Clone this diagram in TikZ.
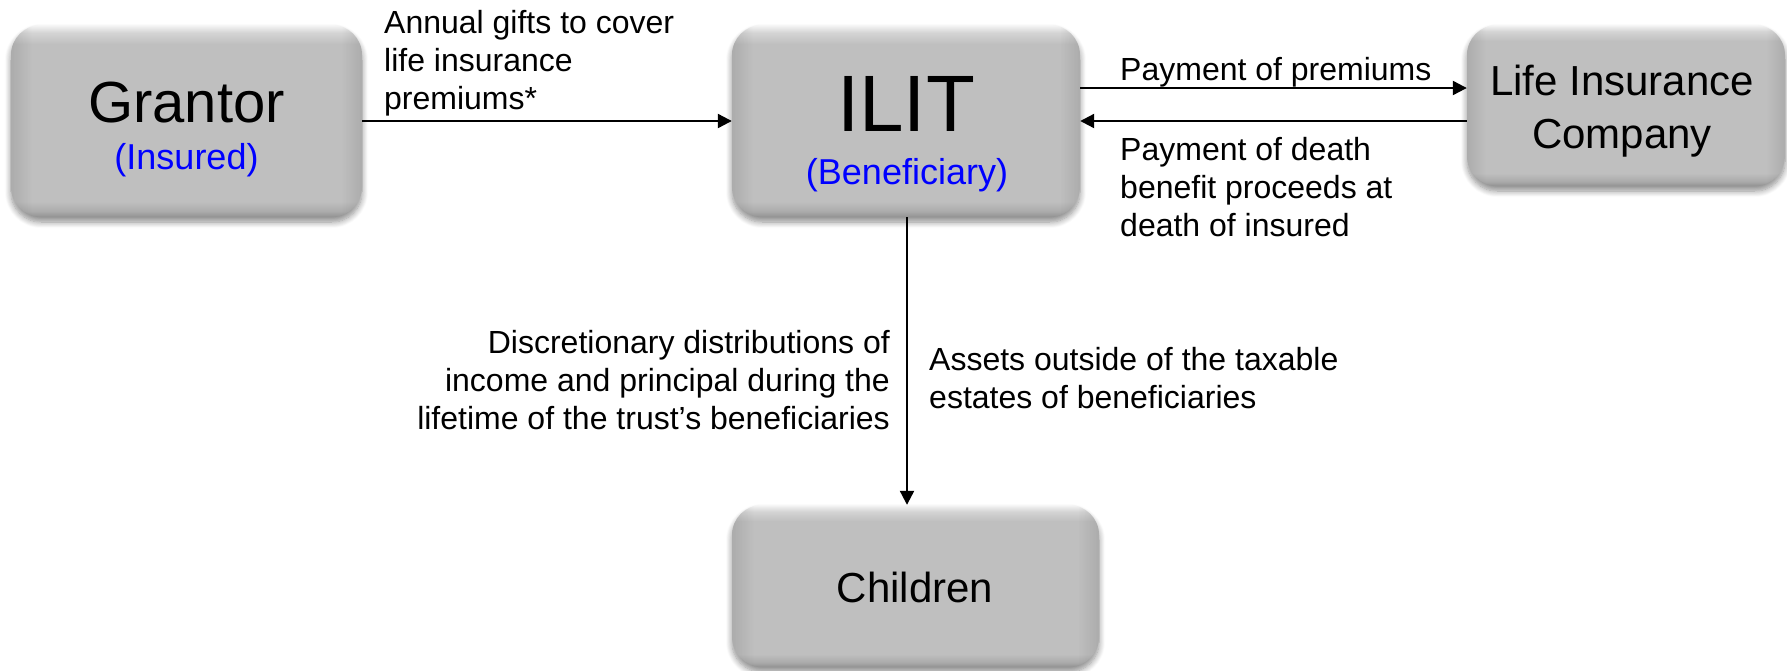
\documentclass[tikz,border=0pt]{standalone}
\usepackage{fontspec}
\setmainfont{Liberation Sans}
\usetikzlibrary{arrows.meta,shadows.blur,fadings}

% colours of the bevelled grey boxes
\definecolor{bevtop}{HTML}{F6F6F6}
\definecolor{bevhi}{HTML}{D4D4D4}
\definecolor{boxgray}{HTML}{BFBFBF}
\definecolor{bevlow}{HTML}{ABABAB}
\definecolor{bevbot}{HTML}{929292}
\definecolor{subblue}{RGB}{0,0,255}

% light top rim, flat body, darker bottom rim
\pgfdeclareverticalshading{boxbevel}{100bp}{%
  color(0bp)=(bevbot); color(25bp)=(bevbot); color(26.5bp)=(bevlow);
  color(29bp)=(boxgray); color(70bp)=(boxgray); color(73bp)=(bevhi);
  color(75bp)=(bevtop); color(100bp)=(bevtop)}

% darkening along the left and right rims
\pgfdeclarehorizontalshading{sidefadeshade}{100bp}{%
  color(0bp)=(pgftransparent!0); color(25bp)=(pgftransparent!0);
  color(28bp)=(pgftransparent!100); color(72bp)=(pgftransparent!100);
  color(75bp)=(pgftransparent!0); color(100bp)=(pgftransparent!0)}
\pgfdeclarefading{sidefade}{\pgfuseshading{sidefadeshade}}

\tikzset{
  box/.style={rounded corners=30pt, inner sep=0pt, shade, shading=boxbevel,
    blur shadow={shadow xshift=0pt, shadow yshift=-5pt,
      shadow blur radius=6pt, shadow blur steps=8, shadow opacity=45},
    postaction={fill=black, fill opacity=0.10, path fading=sidefade}},
  boxtext/.style={inner sep=0pt, anchor=base},
  lbl/.style={inner sep=0pt, font=\fontsize{32}{38}\selectfont},
  arr/.style={line width=2.2pt, -{Triangle[length=14pt,width=14pt]}}
}

\begin{document}
\begin{tikzpicture}[x=1pt, y=-1pt]
\useasboundingbox (0,0) rectangle (1787,670);

% boxes
\node[box, minimum width=351pt, minimum height=192pt] (grantor) at (186.5,121) {};
\node[box, minimum width=348pt, minimum height=192pt] (ilit) at (906,121) {};
\node[box, minimum width=318pt, minimum height=161pt] (lic) at (1626,105.5) {};
\node[box, minimum width=367pt, minimum height=162pt] (children) at (915.5,586) {};

% box texts (base anchor = baseline of the last line)
\node[boxtext, font=\fontsize{58}{60}\selectfont] (grantor-name) at (186.5,122) {Grantor};
\node[boxtext, font=\fontsize{36}{40}\selectfont, text=subblue] (grantor-role) at (186.5,169) {(Insured)};
\node[boxtext, font=\fontsize{80}{84}\selectfont] (ilit-name) at (906,131) {ILIT};
\node[boxtext, font=\fontsize{36}{40}\selectfont, text=subblue] (ilit-role) at (907,184) {(Beneficiary)};
\node[boxtext, font=\fontsize{42}{53}\selectfont, align=center] (lic-name) at (1622,148) {Life Insurance\\Company};
\node[boxtext, font=\fontsize{42}{46}\selectfont] (children-name) at (915,602) {Children};

% connectors
\draw[arr] (grantor.east) -- (ilit.west);
\draw[arr] ([yshift=33pt]ilit.east) -- ([yshift=17.5pt]lic.west);
\draw[arr] ([yshift=-15.5pt]lic.west) -- (ilit.east);
\draw[arr] ([xshift=1pt]ilit.south) -- ([xshift=1pt]ilit.south |- children.north);

% connector labels (placed by the baseline of their last line)
\node[lbl, anchor=base west, align=left] (gift-lbl) at (384,109)
  {Annual gifts to cover\\life insurance\\premiums*};
\node[lbl, anchor=base west, align=left] (prem-lbl) at (1120,80)
  {Payment of premiums};
\node[lbl, anchor=base west, align=left] (death-lbl) at (1120,236)
  {Payment of death\\benefit proceeds at\\death of insured};
\node[lbl, anchor=base east, align=right] (dist-lbl) at (890,429)
  {Discretionary distributions of\\income and principal during the\\lifetime of the trust’s beneficiaries};
\node[lbl, anchor=base west, align=left] (asset-lbl) at (929,408)
  {Assets outside of the taxable\\estates of beneficiaries};
\end{tikzpicture}
\end{document}
